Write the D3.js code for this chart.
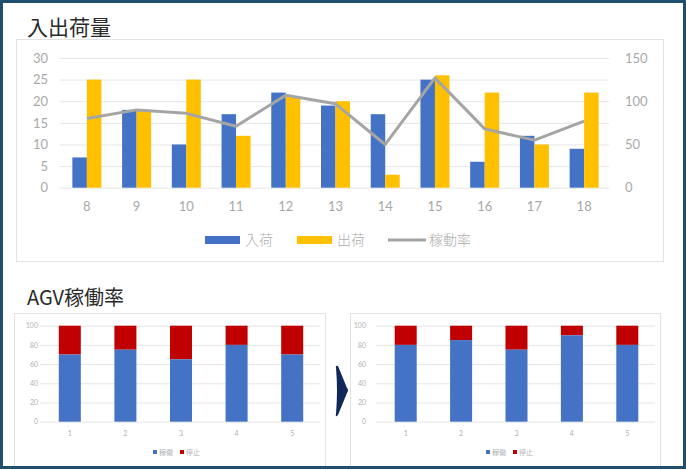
<!DOCTYPE html>
<html>
<head>
<meta charset="utf-8">
<script src="https://cdn.jsdelivr.net/npm/d3@7"></script>
<style>
  body { margin: 0; background: #fff; }
  svg { display: block; }
</style>
</head>
<body>
<svg id="canvas" width="686" height="470"></svg>
<script>
// 入出荷量
const hours = ["8", "9", "10", "11", "12", "13", "14", "15", "16", "17", "18"];
const inbound = [7, 18, 10, 17, 22, 19, 17, 25, 6, 12, 9];
const outbound = [25, 18, 25, 12, 21, 20, 3, 26, 22, 10, 22];
const rate = [80, 90, 86, 71, 107, 97, 50, 127, 68, 55, 77];
const leftTicks = [0, 5, 10, 15, 20, 25, 30];
const rightTicks = [0, 50, 100, 150];
const topLegend = ["入荷", "出荷", "稼動率"];

// AGV稼働率
const agvs = ["1", "2", "3", "4", "5"];
const beforeRun = [70, 75, 65, 80, 70];
const afterRun = [80, 85, 75, 90, 80];
const agvTicks = [0, 20, 40, 60, 80, 100];
const agvLegend = ["稼働", "停止"];

const BLUE = "#4472c4", YELLOW = "#ffc000", GRAY = "#a5a5a5", RED = "#c00000";
const numFont = "Lato, 'Liberation Sans', sans-serif";
const jpFont = "'Noto Sans CJK JP', sans-serif";

const svg = d3.select("#canvas");

// frame
svg.append("rect").attr("x", 1.5).attr("y", 1.5).attr("width", 683).attr("height", 466)
  .attr("fill", "#fff").attr("stroke", "#1f4f6c").attr("stroke-width", 3);

// ---------- top chart ----------
svg.append("text").attr("x", 27).attr("y", 35).text("入出荷量")
  .attr("font-family", jpFont).attr("font-size", 21).attr("font-weight", 400).attr("fill", "#2a2a2a");

svg.append("rect").attr("x", 16.5).attr("y", 39.5).attr("width", 647).attr("height", 222)
  .attr("fill", "#fff").attr("stroke", "#e2e2e2");

const x = d3.scaleBand().domain(hours).range([62, 609]);
const yL = d3.scaleLinear().domain([0, 30]).range([187.7, 58]);
const yR = d3.scaleLinear().domain([0, 150]).range([187.7, 58]);
const bw = 14.5;

const grid = svg.append("g").attr("transform", "translate(60,0)")
  .call(d3.axisLeft(yL).tickValues(leftTicks).tickSize(-549).tickFormat(""));
grid.select(".domain").remove();
grid.selectAll("line").attr("stroke", "#e6e6e6");

const axL = svg.append("g").attr("transform", "translate(48,0)")
  .call(d3.axisLeft(yL).tickValues(leftTicks).tickSize(0).tickPadding(0));
axL.select(".domain").remove();
axL.selectAll("text").attr("font-family", numFont).attr("font-size", 13).attr("fill", "#a8a8a8");

const axR = svg.append("g").attr("transform", "translate(625,0)")
  .call(d3.axisRight(yR).tickValues(rightTicks).tickSize(0).tickPadding(0));
axR.select(".domain").remove();
axR.selectAll("text").attr("font-family", numFont).attr("font-size", 13).attr("fill", "#a8a8a8");

const axX = svg.append("g").attr("transform", "translate(0,196)")
  .call(d3.axisBottom(x).tickSize(0).tickPadding(6));
axX.select(".domain").remove();
axX.selectAll("text").attr("font-family", numFont).attr("font-size", 13).attr("fill", "#a8a8a8");

svg.append("g").selectAll("rect").data(inbound).enter().append("rect")
  .attr("x", (d, i) => x(hours[i]) + x.bandwidth() / 2 - bw)
  .attr("y", (d) => yL(d))
  .attr("width", bw)
  .attr("height", (d) => yL(0) - yL(d))
  .attr("fill", BLUE);

svg.append("g").selectAll("rect").data(outbound).enter().append("rect")
  .attr("x", (d, i) => x(hours[i]) + x.bandwidth() / 2)
  .attr("y", (d) => yL(d))
  .attr("width", bw)
  .attr("height", (d) => yL(0) - yL(d))
  .attr("fill", YELLOW);

const line = d3.line()
  .x((d, i) => x(hours[i]) + x.bandwidth() / 2)
  .y((d) => yR(d));
svg.append("path").datum(rate).attr("d", line)
  .attr("fill", "none").attr("stroke", GRAY).attr("stroke-width", 3).attr("stroke-linejoin", "round");

// legend
const lg = svg.append("g").attr("font-family", jpFont).attr("font-size", 14).attr("font-weight", 300).attr("fill", "#adadad");
const legendX = [205, 297, 388];
const legendColors = [BLUE, YELLOW, GRAY];
topLegend.forEach((name, i) => {
  if (i < 2) {
    lg.append("rect").attr("x", legendX[i]).attr("y", 236).attr("width", 35).attr("height", 8).attr("fill", legendColors[i]);
  } else {
    lg.append("line").attr("x1", legendX[i]).attr("x2", legendX[i] + 38).attr("y1", 240).attr("y2", 240)
      .attr("stroke", GRAY).attr("stroke-width", 3);
  }
  lg.append("text").attr("x", legendX[i] + (i < 2 ? 40 : 41)).attr("y", 245).text(name);
});

// ---------- bottom charts ----------
svg.append("text").attr("x", 27).attr("y", 305).text("AGV稼働率")
  .attr("font-family", jpFont).attr("font-size", 20).attr("font-weight", 400).attr("fill", "#2a2a2a");

function drawStack(values, left, right, labelX, legendCx) {
  const g = svg.append("g");
  g.append("rect").attr("x", left - 25.5).attr("y", 313.5).attr("width", right - left + 31).attr("height", 160)
    .attr("fill", "#fff").attr("stroke", "#e2e2e2");
  const xs = d3.scaleBand().domain(agvs).range([left + 2, right]);
  const ys = d3.scaleLinear().domain([0, 100]).range([421.7, 325.7]);
  const gr = g.append("g").attr("transform", "translate(" + left + ",0)")
    .call(d3.axisLeft(ys).tickValues(agvTicks).tickSize(-(right - left)).tickFormat(""));
  gr.select(".domain").remove();
  gr.selectAll("line").attr("stroke", "#e6e6e6");
  const ax = g.append("g").attr("transform", "translate(" + labelX + ",0)")
    .call(d3.axisLeft(ys).tickValues(agvTicks).tickSize(0).tickPadding(0));
  ax.select(".domain").remove();
  ax.selectAll("text").attr("font-family", numFont).attr("font-size", 7).attr("fill", "#b0b0b0");
  const axb = g.append("g").attr("transform", "translate(0,428)")
    .call(d3.axisBottom(xs).tickSize(0).tickPadding(3));
  axb.select(".domain").remove();
  axb.selectAll("text").attr("font-family", numFont).attr("font-size", 7).attr("fill", "#b0b0b0");
  const w = 22;
  g.append("g").selectAll("rect").data(values).enter().append("rect")
    .attr("x", (d, i) => xs(agvs[i]) + xs.bandwidth() / 2 - w / 2)
    .attr("y", (d) => ys(100))
    .attr("width", w)
    .attr("height", (d) => ys(d) - ys(100))
    .attr("fill", RED);
  g.append("g").selectAll("rect").data(values).enter().append("rect")
    .attr("x", (d, i) => xs(agvs[i]) + xs.bandwidth() / 2 - w / 2)
    .attr("y", (d) => ys(d))
    .attr("width", w)
    .attr("height", (d) => ys(0) - ys(d))
    .attr("fill", BLUE);
  const lgd = g.append("g").attr("font-family", jpFont).attr("font-size", 7).attr("fill", "#b0b0b0");
  [BLUE, RED].forEach((c, i) => {
    const cx = legendCx - 22 + i * 27;
    lgd.append("rect").attr("x", cx).attr("y", 450).attr("width", 4).attr("height", 4).attr("fill", c);
    lgd.append("text").attr("x", cx + 6).attr("y", 455).text(agvLegend[i]);
  });
}

drawStack(beforeRun, 40, 320, 38, 175);
drawStack(afterRun, 376, 655, 366, 508);

// arrow
svg.append("path")
  .attr("d", "M336,368 Q335,365 338,366 L347,388 Q349,390 347,393 L338,415 Q335,418 336,414 Q338,390 336,368 Z")
  .attr("fill", "#13285a");

// redraw the frame edge over panels
svg.append("rect").attr("x", 1.5).attr("y", 1.5).attr("width", 683).attr("height", 466)
  .attr("fill", "none").attr("stroke", "#1f4f6c").attr("stroke-width", 3);
</script>
</body>
</html>
